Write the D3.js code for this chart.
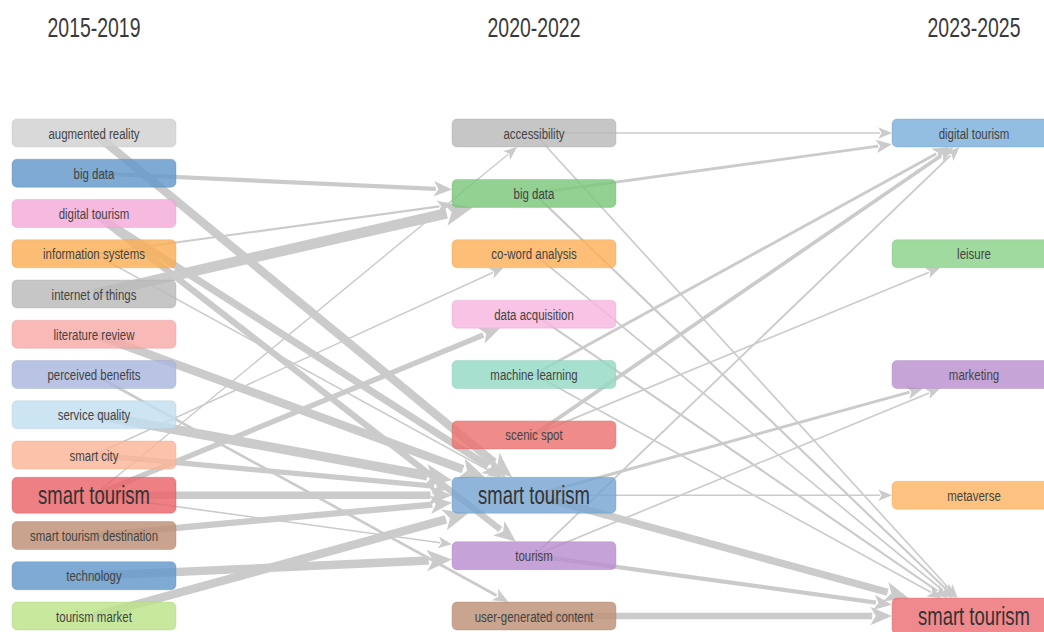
<!DOCTYPE html>
<html>
<head>
<meta charset="utf-8">
<script src="https://cdn.jsdelivr.net/npm/d3@7"></script>
<style>
  html, body { margin: 0; padding: 0; background: #fff; }
  svg { display: block; font-family: "Liberation Sans", Arial, sans-serif; }
</style>
</head>
<body>
<div id="chart"></div>
<script>
// periods (column headers)
const periods = ['2015-2019', '2020-2022', '2023-2025'];

// themes per period, top to bottom
const themesA = ['augmented reality', 'big data', 'digital tourism', 'information systems', 'internet of things',
  'literature review', 'perceived benefits', 'service quality', 'smart city', 'smart tourism',
  'smart tourism destination', 'technology', 'tourism market'];
const themesB = ['accessibility', 'big data', 'co-word analysis', 'data acquisition', 'machine learning',
  'scenic spot', 'smart tourism', 'tourism', 'user-generated content'];
const themesC = ['digital tourism', 'leisure', 'marketing', 'metaverse', 'smart tourism'];

// theme frequency (drives box/label size)
const freqA = [8, 9, 6, 7, 9, 8, 6, 7, 8, 120, 9, 10, 8];
const freqB = [6, 10, 5, 7, 6, 8, 150, 12, 9];
const freqC = [12, 6, 8, 6, 180];

// seen colours of the boxes
const colorsA = ['#d9d9d9', '#7eaad3', '#f6b9e0', '#fbbd74', '#c6c6c6', '#f9b9b7', '#b9c3e4',
  '#cde4f2', '#fcc3aa', '#ee7f83', '#c9a38d', '#7eaad3', '#c8e89e'];
const colorsB = ['#c6c6c6', '#93d193', '#fdbf78', '#f8c3e5', '#a8e0cf', '#ef8c8a', '#8fb6da', '#c5a2d8', '#c9a48e'];
const colorsC = ['#93bde1', '#a1da9f', '#c6a4d8', '#fdc27f', '#f0898d'];

// flows 2015-2019 -> 2020-2022  [from, to, weight]
const flowsAB = [
  ['augmented reality', 'smart tourism', 0.75],
  ['big data', 'big data', 0.35],
  ['digital tourism', 'smart tourism', 0.62],
  ['digital tourism', 'tourism', 0.55],
  ['information systems', 'big data', 0.15],
  ['information systems', 'smart tourism', 0.08],
  ['internet of things', 'big data', 0.95],
  ['literature review', 'smart tourism', 0.75],
  ['perceived benefits', 'user-generated content', 0.2],
  ['service quality', 'smart tourism', 0.85],
  ['smart city', 'smart tourism', 0.45],
  ['smart city', 'co-word analysis', 0.08],
  ['smart tourism', 'smart tourism', 0.65],
  ['smart tourism', 'accessibility', 0.08],
  ['smart tourism', 'data acquisition', 0.45],
  ['smart tourism', 'tourism', 0.1],
  ['smart tourism destination', 'smart tourism', 0.55],
  ['technology', 'tourism', 0.75],
  ['tourism market', 'smart tourism', 0.75]
];

// flows 2020-2022 -> 2023-2025
const flowsBC = [
  ['accessibility', 'digital tourism', 0.1],
  ['accessibility', 'smart tourism', 0.1],
  ['big data', 'digital tourism', 0.22],
  ['big data', 'smart tourism', 0.15],
  ['co-word analysis', 'smart tourism', 0.1],
  ['data acquisition', 'smart tourism', 0.15],
  ['machine learning', 'digital tourism', 0.22],
  ['machine learning', 'smart tourism', 0.1],
  ['scenic spot', 'digital tourism', 0.3],
  ['scenic spot', 'leisure', 0.1],
  ['smart tourism', 'marketing', 0.22],
  ['smart tourism', 'metaverse', 0.1],
  ['smart tourism', 'smart tourism', 0.65],
  ['tourism', 'digital tourism', 0.12],
  ['tourism', 'marketing', 0.1],
  ['tourism', 'smart tourism', 0.35],
  ['user-generated content', 'smart tourism', 0.55]
];

const W = 1044, H = 632;
const BOXW = 164, SQX = 0.74;   // text is drawn condensed

const svg = d3.select('#chart').append('svg').attr('width', W).attr('height', H);

const x = d3.scalePoint().domain(periods).range([94, 974]);
const cols = [
  { themes: themesA, freq: freqA, colors: colorsA },
  { themes: themesB, freq: freqB, colors: colorsB },
  { themes: themesC, freq: freqC, colors: colorsC }
];
const boxH = d3.scaleThreshold().domain([50]).range([28, 36]);
const fontS = d3.scaleThreshold().domain([50]).range([15.5, 25]);
const width = d3.scaleLinear().domain([0, 1]).range([0.6, 11]);

// node table
const nodes = [];
cols.forEach((c, ci) => {
  const y = d3.scalePoint().domain(c.themes).range([133, 616]);
  c.themes.forEach((t, i) => nodes.push({
    col: ci, name: t, x: x(periods[ci]), y: y(t), h: boxH(c.freq[i]), fs: fontS(c.freq[i]), color: c.colors[i]
  }));
});
const node = (ci, name) => nodes.find(n => n.col === ci && n.name === name);

const links = [
  ...flowsAB.map(([a, b, w]) => ({ s: node(0, a), t: node(1, b), w })),
  ...flowsBC.map(([a, b, w]) => ({ s: node(1, a), t: node(2, b), w }))
];

// edges (under the boxes)
const gE = svg.append('g');
links.forEach(l => {
  const sw = width(l.w);
  const dx = l.t.x - l.s.x, dy = l.t.y - l.s.y;
  const s = Math.min((BOXW / 2) / Math.abs(dx || 1e-6), (l.t.h / 2) / Math.abs(dy || 1e-6));
  const tipX = l.t.x - s * dx, tipY = l.t.y - s * dy;
  const len = Math.hypot(dx, dy), ux = dx / len, uy = dy / len;
  const aL = 11 + 1.7 * sw, aW = 4.5 + 0.75 * sw;
  const bx = tipX - ux * aL, by = tipY - uy * aL;
  gE.append('line')
    .attr('x1', l.s.x).attr('y1', l.s.y).attr('x2', bx + ux * 2).attr('y2', by + uy * 2)
    .attr('stroke', '#cbcbcb').attr('stroke-width', sw);
  gE.append('path')
    .attr('d', `M${tipX},${tipY}L${bx - uy * aW},${by + ux * aW}L${bx + ux * aL * 0.25},${by + uy * aL * 0.25}L${bx + uy * aW},${by - ux * aW}Z`)
    .attr('fill', '#cbcbcb');
});

// boxes: translucent, so the tinted colour after blending equals the seen colour
const A = 0.82;
const base = c => {
  const o = d3.rgb(c);
  const f = v => Math.max(0, Math.min(255, (v - (1 - A) * 255) / A));
  return d3.rgb(f(o.r), f(o.g), f(o.b)).formatHex();
};
const gN = svg.append('g');
gN.selectAll('rect').data(nodes).join('rect')
  .attr('x', d => d.x - BOXW / 2).attr('y', d => d.y - d.h / 2)
  .attr('width', BOXW).attr('height', d => d.h).attr('rx', 5)
  .attr('fill', d => base(d.color)).attr('fill-opacity', A)
  .attr('stroke', d => d3.color(base(d.color)).darker(0.3)).attr('stroke-opacity', 0.35).attr('stroke-width', 1);

gN.selectAll('text').data(nodes).join('text')
  .attr('transform', d => `translate(${d.x},${d.y}) scale(${SQX},1)`)
  .attr('text-anchor', 'middle').attr('dy', '0.36em')
  .attr('font-size', d => d.fs).attr('fill', d => d.fs > 20 ? '#333' : '#434343')
  .text(d => d.name);

// period headers
svg.append('g').selectAll('text').data(periods).join('text')
  .attr('transform', d => `translate(${x(d)},37) scale(0.72,1)`)
  .attr('text-anchor', 'middle').attr('font-size', 27).attr('fill', '#3a3a3a')
  .text(d => d);
</script>
</body>
</html>
